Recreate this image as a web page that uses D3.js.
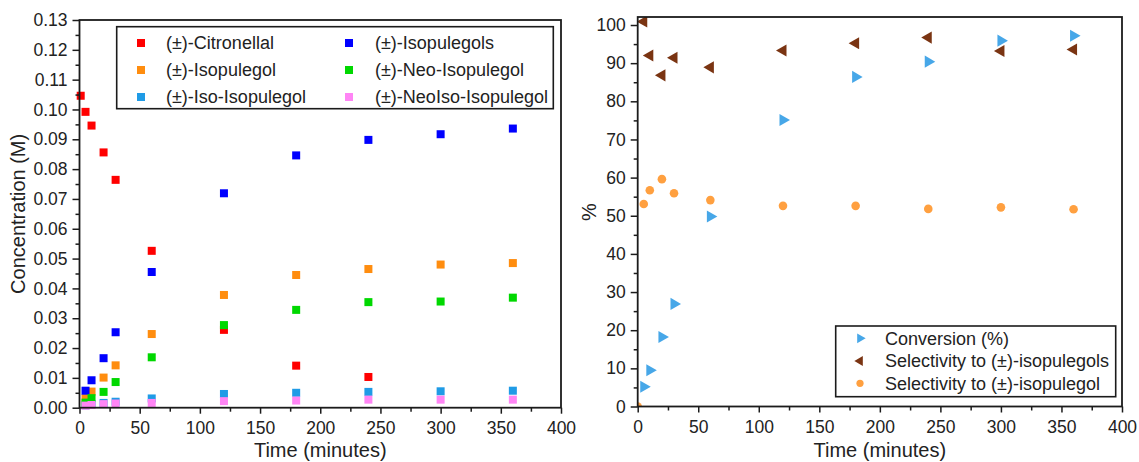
<!DOCTYPE html>
<html>
<head>
<meta charset="utf-8">
<script src="https://cdn.jsdelivr.net/npm/d3@7/dist/d3.min.js"></script>
<style>
  html, body { margin: 0; padding: 0; background: #fff; }
  svg { display: block; font-family: "Liberation Sans", Arial, sans-serif; }
</style>
</head>
<body>
<svg id="chart" width="1139" height="462"></svg>
<script>
// ---- Concentration profiles (left panel) ----
const concTimes = [1, 5, 10, 20, 30, 60, 120, 180, 240, 300, 360];
const citronellal   = [0.1046, 0.0992, 0.0946, 0.0856, 0.0764, 0.0526, 0.0261, 0.0141, 0.0103, null, null];
const isopulegol    = [null, 0.0032, 0.0054, 0.0101, 0.0142, 0.0247, 0.0378, 0.0445, 0.0465, 0.0480, 0.0485];
const isoIsopulegol = [null, 0.0008, 0.0012, 0.0016, 0.0020, 0.0031, 0.0046, 0.0050, 0.0053, 0.0055, 0.0057];
const isopulegols   = [null, 0.0057, 0.0092, 0.0166, 0.0253, 0.0455, 0.0719, 0.0846, 0.0898, 0.0917, 0.0936];
const neoIsopulegol = [null, 0.0017, 0.0032, 0.0053, 0.0086, 0.0169, 0.0277, 0.0328, 0.0354, 0.0356, 0.0369];
const neoIsoIsopulegol = [null, 0.0007, 0.0009, 0.0012, 0.0014, 0.0016, 0.0022, 0.0024, 0.0027, 0.0027, 0.0027];

// ---- Conversion & selectivity (right panel) ----
const convTimes = [5, 10, 20, 30, 60, 120, 180, 240, 300, 360];
const conversion = [5.2, 9.5, 18.2, 26.9, 49.8, 75.1, 86.4, 90.4, 95.9, 97.2];
const selIsopulegols = [100.9, 92.0, 86.8, 91.4, 88.9, 93.3, 95.2, 96.7, 93.2, 93.6];
const selTimes = [0, 5, 10, 20, 30, 60, 120, 180, 240, 300, 360];
const selIsopulegol = [0, 53.1, 56.7, 59.6, 55.9, 54.1, 52.6, 52.6, 51.8, 52.2, 51.7];

// ---- Tick values ----
const timeTicks = [0, 50, 100, 150, 200, 250, 300, 350, 400];
const timeMinor = [25, 75, 125, 175, 225, 275, 325, 375];
const concTicks = d3.range(0, 0.1301, 0.01);
const concMinor = d3.range(0.005, 0.13, 0.01);
const pctTicks = d3.range(0, 101, 10);
const pctMinor = d3.range(5, 101, 10);

const svg = d3.select("#chart");
const AXIS = "#1b1b1b";
const tickFont = "17.5px";

// Left panel geometry
const L = { x0: 79.5, x1: 561, yTop: 20, yBot: 407.7 };
const R = { x0: 637.7, x1: 1122, yTop: 17, yBot: 406.5 };

const xL = d3.scaleLinear().domain([0, 400]).range([L.x0, L.x1]);
const yL = d3.scaleLinear().domain([0, 0.13]).range([L.yBot, L.yTop]);
const xR = d3.scaleLinear().domain([0, 400]).range([R.x0, R.x1]);
const yR = d3.scaleLinear().domain([0, 102.1]).range([R.yBot, R.yTop]);

const concSeries = [
  { name: "(±)-Citronellal",       values: citronellal,      color: "#ff0000" },
  { name: "(±)-Isopulegol",        values: isopulegol,       color: "#ff8d0f" },
  { name: "(±)-Iso-Isopulegol",    values: isoIsopulegol,    color: "#1f9be6" },
  { name: "(±)-Isopulegols",       values: isopulegols,      color: "#0000ff" },
  { name: "(±)-Neo-Isopulegol",    values: neoIsopulegol,    color: "#00d800" },
  { name: "(±)-NeoIso-Isopulegol", values: neoIsoIsopulegol, color: "#ff85f5" }
];

// Right-pointing and left-pointing triangles, centred on their centroid
function triRight(s) { const w = s, h = s * 1.15; return `M${-w/3},${-h/2}L${2*w/3},0L${-w/3},${h/2}Z`; }
function triLeft(s)  { const w = s, h = s * 1.15; return `M${w/3},${-h/2}L${-2*w/3},0L${w/3},${h/2}Z`; }

// ---------- Left panel ----------
const gL = svg.append("g");
const sq = 8;
concSeries.forEach(s => {
  const pts = concTimes.map((t, i) => ({ t, v: s.values[i] })).filter(d => d.v !== null);
  gL.selectAll(null).data(pts).enter().append("rect")
    .attr("x", d => xL(d.t) - sq / 2)
    .attr("y", d => yL(d.v) - sq / 2)
    .attr("width", sq).attr("height", sq)
    .attr("fill", s.color);
});

function styleAxis(g) {
  g.select(".domain").remove();
  g.selectAll("line").attr("stroke", AXIS).attr("stroke-width", 1.5);
  g.selectAll("text").attr("fill", "#222").style("font-size", tickFont);
}

// y axis (major + minor)
gL.append("g").attr("transform", `translate(${L.x0},0)`)
  .call(d3.axisLeft(yL).tickValues(concTicks).tickFormat(d3.format(".2f")).tickSize(7).tickPadding(5))
  .call(styleAxis);
gL.append("g").attr("transform", `translate(${L.x0},0)`)
  .call(d3.axisLeft(yL).tickValues(concMinor).tickFormat("").tickSize(4))
  .call(styleAxis);
// x axis
gL.append("g").attr("transform", `translate(0,${L.yBot})`)
  .call(d3.axisBottom(xL).tickValues(timeTicks).tickSize(6).tickPadding(8))
  .call(styleAxis);
gL.append("g").attr("transform", `translate(0,${L.yBot})`)
  .call(d3.axisBottom(xL).tickValues(timeMinor).tickFormat("").tickSize(4))
  .call(styleAxis);
// frame
gL.append("rect").attr("x", L.x0).attr("y", L.yTop)
  .attr("width", L.x1 - L.x0).attr("height", L.yBot - L.yTop)
  .attr("fill", "none").attr("stroke", AXIS).attr("stroke-width", 1.8);

// axis titles
gL.append("text").attr("x", (L.x0 + L.x1) / 2).attr("y", 457)
  .attr("text-anchor", "middle").style("font-size", "20px").attr("fill", "#222")
  .text("Time (minutes)");
gL.append("text").attr("transform", `translate(25,${(L.yTop + L.yBot) / 2}) rotate(-90)`)
  .attr("text-anchor", "middle").style("font-size", "20px").attr("fill", "#222")
  .text("Concentration (M)");

// legend (column-major, 3 rows)
const legL = gL.append("g");
legL.append("rect").attr("x", 116.7).attr("y", 26.7).attr("width", 436.6).attr("height", 82)
  .attr("fill", "#fff").attr("stroke", AXIS).attr("stroke-width", 1.6);
const legRows = [43, 70, 97];
const legCols = [{ m: 141, t: 166 }, { m: 349, t: 375 }];
concSeries.forEach((s, i) => {
  const col = legCols[Math.floor(i / 3)], row = legRows[i % 3];
  legL.append("rect").attr("x", col.m - 4).attr("y", row - 4).attr("width", 8).attr("height", 8).attr("fill", s.color);
  legL.append("text").attr("x", col.t).attr("y", row).attr("dy", "0.35em")
    .style("font-size", "18px").attr("fill", "#222").text(s.name);
});

// ---------- Right panel ----------
const gR = svg.append("g");
gR.append("clipPath").attr("id", "clipR").append("rect")
  .attr("x", R.x0).attr("y", R.yTop).attr("width", R.x1 - R.x0).attr("height", R.yBot - R.yTop);
const marks = gR.append("g").attr("clip-path", "url(#clipR)");

const convColor = "#47a7e8", selsColor = "#7a3412", selColor = "#ffa040";

marks.selectAll(null).data(selTimes.map((t, i) => ({ t, v: selIsopulegol[i] }))).enter()
  .append("circle").attr("cx", d => xR(d.t)).attr("cy", d => yR(d.v)).attr("r", 4.3).attr("fill", selColor);
marks.selectAll(null).data(convTimes.map((t, i) => ({ t, v: selIsopulegols[i] }))).enter()
  .append("path").attr("d", triLeft(10.5)).attr("transform", d => `translate(${xR(d.t)},${yR(d.v)})`).attr("fill", selsColor);
marks.selectAll(null).data(convTimes.map((t, i) => ({ t, v: conversion[i] }))).enter()
  .append("path").attr("d", triRight(10.5)).attr("transform", d => `translate(${xR(d.t)},${yR(d.v)})`).attr("fill", convColor);

gR.append("g").attr("transform", `translate(${R.x0},0)`)
  .call(d3.axisLeft(yR).tickValues(pctTicks).tickSize(7).tickPadding(5))
  .call(styleAxis);
gR.append("g").attr("transform", `translate(${R.x0},0)`)
  .call(d3.axisLeft(yR).tickValues(pctMinor).tickFormat("").tickSize(4))
  .call(styleAxis);
gR.append("g").attr("transform", `translate(0,${R.yBot})`)
  .call(d3.axisBottom(xR).tickValues(timeTicks).tickSize(6).tickPadding(8))
  .call(styleAxis);
gR.append("g").attr("transform", `translate(0,${R.yBot})`)
  .call(d3.axisBottom(xR).tickValues(timeMinor).tickFormat("").tickSize(4))
  .call(styleAxis);
gR.append("rect").attr("x", R.x0).attr("y", R.yTop)
  .attr("width", R.x1 - R.x0).attr("height", R.yBot - R.yTop)
  .attr("fill", "none").attr("stroke", AXIS).attr("stroke-width", 1.8);

gR.append("text").attr("x", (R.x0 + R.x1) / 2).attr("y", 457)
  .attr("text-anchor", "middle").style("font-size", "20px").attr("fill", "#222")
  .text("Time (minutes)");
gR.append("text").attr("transform", `translate(596,212) rotate(-90)`)
  .attr("text-anchor", "middle").style("font-size", "20px").attr("fill", "#222")
  .text("%");

// legend
const legR = gR.append("g");
legR.append("rect").attr("x", 835.7).attr("y", 326).attr("width", 280).attr("height", 70.7)
  .attr("fill", "#fff").attr("stroke", AXIS).attr("stroke-width", 1.6);
const legItemsR = [
  { name: "Conversion (%)", kind: "right", color: convColor, y: 338.3 },
  { name: "Selectivity to (±)-isopulegols", kind: "left", color: selsColor, y: 361 },
  { name: "Selectivity to (±)-isopulegol", kind: "circle", color: selColor, y: 383.3 }
];
legItemsR.forEach(it => {
  if (it.kind === "circle") {
    legR.append("circle").attr("cx", 860).attr("cy", it.y).attr("r", 3.6).attr("fill", it.color);
  } else {
    legR.append("path").attr("d", it.kind === "right" ? triRight(8.5) : triLeft(8.5))
      .attr("transform", `translate(860,${it.y})`).attr("fill", it.color);
  }
  legR.append("text").attr("x", 885).attr("y", it.y).attr("dy", "0.35em")
    .style("font-size", "18px").attr("fill", "#222").text(it.name);
});
</script>
</body>
</html>
